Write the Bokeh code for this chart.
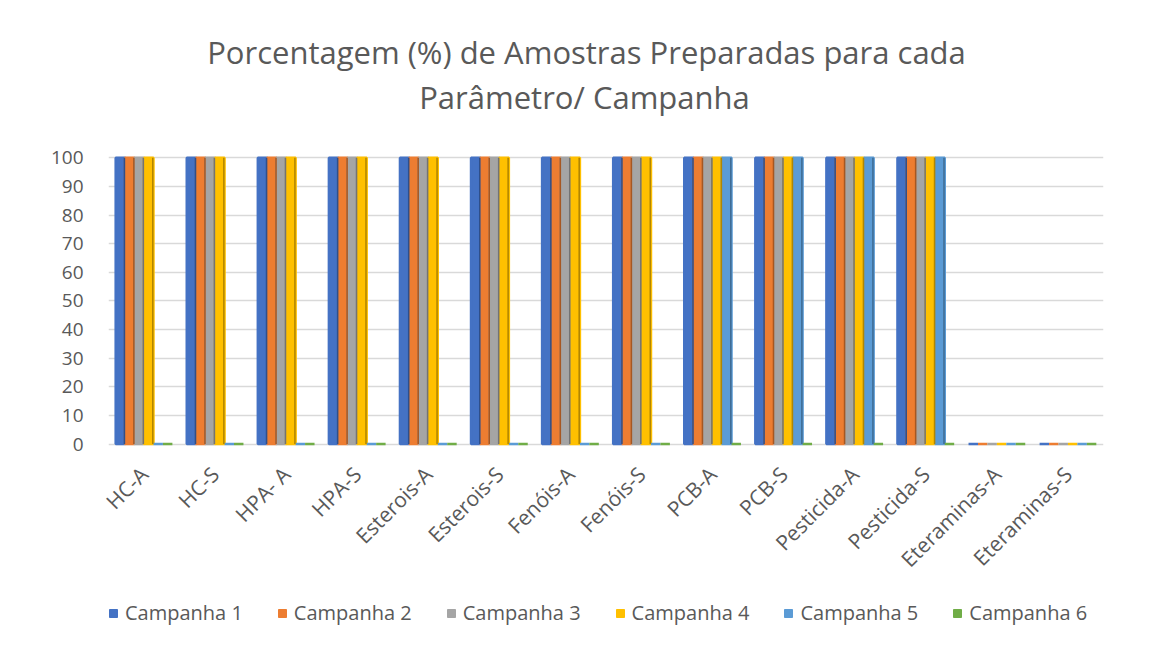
import math
from bokeh.plotting import figure
from bokeh.layouts import column
from bokeh.models import ColumnDataSource, Range1d, FixedTicker, Legend, LegendItem, Label
from bokeh.transform import dodge
from bokeh.embed import file_html
from bokeh.resources import INLINE

categories = ["HC-A", "HC-S", "HPA- A", "HPA-S", "Esterois-A", "Esterois-S",
              "Fenóis-A", "Fenóis-S", "PCB-A", "PCB-S", "Pesticida-A",
              "Pesticida-S", "Eteraminas-A", "Eteraminas-S"]
campanha_1 = [100, 100, 100, 100, 100, 100, 100, 100, 100, 100, 100, 100, 0, 0]
campanha_2 = [100, 100, 100, 100, 100, 100, 100, 100, 100, 100, 100, 100, 0, 0]
campanha_3 = [100, 100, 100, 100, 100, 100, 100, 100, 100, 100, 100, 100, 0, 0]
campanha_4 = [100, 100, 100, 100, 100, 100, 100, 100, 100, 100, 100, 100, 0, 0]
campanha_5 = [0, 0, 0, 0, 0, 0, 0, 0, 100, 100, 100, 100, 0, 0]
campanha_6 = [0, 0, 0, 0, 0, 0, 0, 0, 0, 0, 0, 0, 0, 0]
series_names = ["Campanha 1", "Campanha 2", "Campanha 3", "Campanha 4", "Campanha 5", "Campanha 6"]
y_ticks = [0, 10, 20, 30, 40, 50, 60, 70, 80, 90, 100]
title_line_1 = "Porcentagem (%) de Amostras Preparadas para cada"
title_line_2 = "Parâmetro/ Campanha"

colors = ["#4472C4", "#ED7D31", "#A5A5A5", "#FFC000", "#5B9BD5", "#70AD47"]
side_colors = ["#2F4F8A", "#A65722", "#737373", "#B28600", "#3F6C95", "#4E7932"]
TXT = "#595959"
W = 1157

series = [campanha_1, campanha_2, campanha_3, campanha_4, campanha_5, campanha_6]
data = {"cat": categories}
for i, s in enumerate(series):
    data[f"s{i}"] = s
source = ColumnDataSource(data)

# ---- title strip ----
tf = figure(width=W, height=130, output_backend="svg", toolbar_location=None,
            x_axis_type=None, y_axis_type=None, x_range=Range1d(0, 995),
            y_range=Range1d(0, 130), min_border=0, title=None)
tf.outline_line_color = None
tf.xgrid.visible = False
tf.ygrid.visible = False
for txt, x, y in [(title_line_1, 478, 79), (title_line_2, 476, 34)]:
    tf.add_layout(Label(x=x, y=y, text=txt, text_align="center", text_baseline="middle",
                        text_font="Open Sans", text_font_size="31px", text_color=TXT))

# ---- main chart ----
p = figure(x_range=categories, y_range=Range1d(-1.2, 100.8),
           width=W, height=460, output_backend="svg", toolbar_location=None,
           min_border_left=108, min_border_right=54, min_border_top=25,
           min_border_bottom=143, title=None)
p.outline_line_color = None
p.background_fill_color = "white"
p.border_fill_color = "white"

w = 0.133
for i in range(6):
    off = (i - 2.5) * w
    p.vbar(x=dodge("cat", off, range=p.x_range), top=f"s{i}", bottom=0, width=w,
           source=source, fill_color=colors[i], line_color=colors[i], line_width=2.5)
for i in range(6):
    off = (i - 2.5) * w
    p.vbar(x=dodge("cat", off + w / 2 - 0.01, range=p.x_range), top=f"s{i}", bottom=0,
           width=0.022, source=source, fill_color=side_colors[i], line_color=None)

p.xgrid.visible = False
p.ygrid.ticker = FixedTicker(ticks=y_ticks)
p.ygrid.grid_line_color = "#d9d9d9"
p.ygrid.grid_line_width = 1.5

p.yaxis.ticker = FixedTicker(ticks=y_ticks)
for ax in (p.xaxis[0], p.yaxis[0]):
    ax.axis_line_color = None
    ax.major_tick_line_color = None
    ax.minor_tick_line_color = None
    ax.major_label_text_font = "Open Sans"
    ax.major_label_text_color = TXT
p.yaxis.major_label_text_font_size = "19px"
p.xaxis.major_label_text_font_size = "21px"
p.yaxis.major_label_standoff = 19
p.xaxis.major_label_orientation = math.pi / 4
p.xaxis.major_label_standoff = 17

# ---- legend strip ----
lg = figure(width=W, height=57, output_backend="svg", toolbar_location=None,
            x_axis_type=None, y_axis_type=None, x_range=Range1d(1000, 1001),
            y_range=Range1d(1000, 1001), min_border=0, title=None)
lg.outline_line_color = None
lg.xgrid.visible = False
lg.ygrid.visible = False
legend_renderers = []
for i in range(6):
    r = lg.vbar(x=f"s{i}", top=f"s{i}", width=0.1, source=source,
                fill_color=colors[i], line_color=colors[i])
    legend_renderers.append(r)
legend = Legend(items=[LegendItem(label=n, renderers=[r]) for n, r in zip(series_names, legend_renderers)],
                orientation="horizontal", location=(0, 21),
                label_text_font="Open Sans", label_text_font_size="20px",
                label_text_color=TXT, glyph_width=10, glyph_height=10,
                label_standoff=7, spacing=34, padding=0, margin=0,
                border_line_color=None, background_fill_alpha=0)
lg.add_layout(legend, "center")

open("out.html", "w").write(file_html(column(tf, p, lg, spacing=0), INLINE))
